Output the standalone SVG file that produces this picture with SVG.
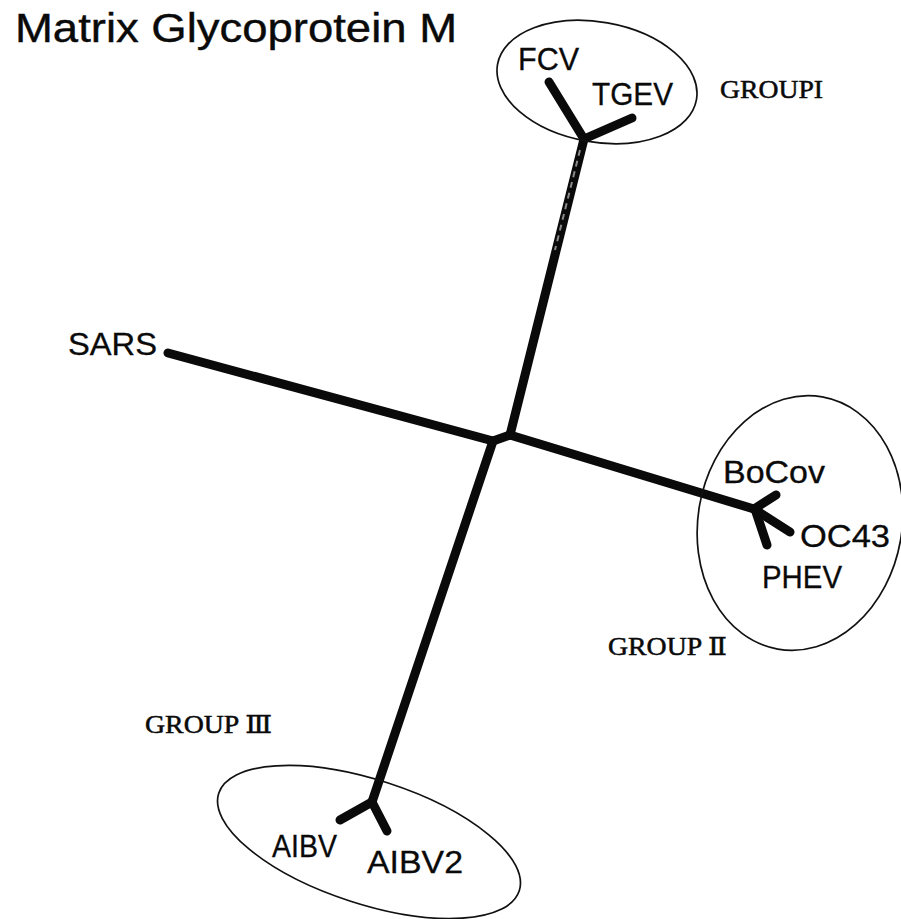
<svg xmlns="http://www.w3.org/2000/svg" width="901" height="919" viewBox="0 0 901 919">
  <style>
    .branch { stroke: #0a0a0a; stroke-width: 9; stroke-linecap: round; stroke-linejoin: round; fill: none; }
    .ring { fill: none; stroke: #111; stroke-width: 1.7; }
    .taxon { font-family: "Liberation Sans", Arial, sans-serif; font-size: 31px; fill: #0a0a0a; stroke: #0a0a0a; stroke-width: 0.3; }
    .group { font-family: "Liberation Serif", "DejaVu Serif", "Noto Sans CJK SC", serif; font-size: 25px; fill: #0a0a0a; stroke: #0a0a0a; stroke-width: 0.5; }
    .title { font-family: "Liberation Sans", Arial, sans-serif; font-size: 40px; fill: #0a0a0a; stroke: #0a0a0a; stroke-width: 0.4; }
  </style>
  <rect width="901" height="919" fill="#ffffff"/>

  <text class="title" x="15" y="42" textLength="442" lengthAdjust="spacingAndGlyphs">Matrix Glycoprotein M</text>

  <!-- tree branches -->
  <g id="connectors">
    <!-- short internal edge between the two central nodes -->
    <path class="branch" d="M493,441 L510,435"/>
    <!-- SARS -->
    <path class="branch" d="M168,353 L493,441"/>
    <!-- to group I -->
    <path class="branch" d="M510,435 L584,139"/>
    <path d="M580,150 L555,250" stroke="#8a8a8a" stroke-width="2" stroke-dasharray="6 5" fill="none"/>
    <path class="branch" d="M584,139 L549,82"/>
    <path class="branch" d="M584,139 L632,118"/>
    <!-- to group II -->
    <path class="branch" d="M510,435 L754,509"/>
    <path class="branch" d="M754,509 L776,495"/>
    <path class="branch" d="M754,509 L790,532"/>
    <path class="branch" d="M756,512 L767,545"/>
    <!-- to group III -->
    <path class="branch" d="M493,441 L372,802"/>
    <path class="branch" d="M372,802 L340,820"/>
    <path class="branch" d="M372,802 L387,831"/>
  </g>

  <g id="group1">
    <ellipse class="ring" cx="597" cy="82" rx="101" ry="60" transform="rotate(10 597 82)"/>
    <text class="group" x="720" y="98" textLength="103" lengthAdjust="spacingAndGlyphs">GROUPI</text>
  </g>
  <g id="fcv"><text class="taxon" x="518" y="70" textLength="61" lengthAdjust="spacingAndGlyphs">FCV</text></g>
  <g id="tgev"><text class="taxon" x="592" y="105" textLength="81" lengthAdjust="spacingAndGlyphs">TGEV</text></g>

  <g id="sars"><text class="taxon" x="68" y="355" textLength="89" lengthAdjust="spacingAndGlyphs">SARS</text></g>

  <g id="group2">
    <ellipse class="ring" cx="800" cy="523" rx="102" ry="128" transform="rotate(10 800 523)"/>
    <text class="group" x="608" y="655" textLength="119" lengthAdjust="spacingAndGlyphs">GROUP Ⅱ</text>
  </g>
  <g id="bocov"><text class="taxon" x="723" y="483" textLength="102" lengthAdjust="spacingAndGlyphs">BoCov</text></g>
  <g id="oc43"><text class="taxon" x="800" y="547" textLength="90" lengthAdjust="spacingAndGlyphs">OC43</text></g>
  <g id="phev"><text class="taxon" x="762" y="588" textLength="80" lengthAdjust="spacingAndGlyphs">PHEV</text></g>

  <g id="group3">
    <ellipse class="ring" cx="369" cy="842" rx="158" ry="62" transform="rotate(18 369 842)"/>
    <text class="group" x="145" y="733" textLength="127" lengthAdjust="spacingAndGlyphs">GROUP Ⅲ</text>
  </g>
  <g id="aibv"><text class="taxon" x="272" y="857" textLength="65" lengthAdjust="spacingAndGlyphs">AIBV</text></g>
  <g id="aibv2"><text class="taxon" x="367" y="873" textLength="96" lengthAdjust="spacingAndGlyphs">AIBV2</text></g>
</svg>
